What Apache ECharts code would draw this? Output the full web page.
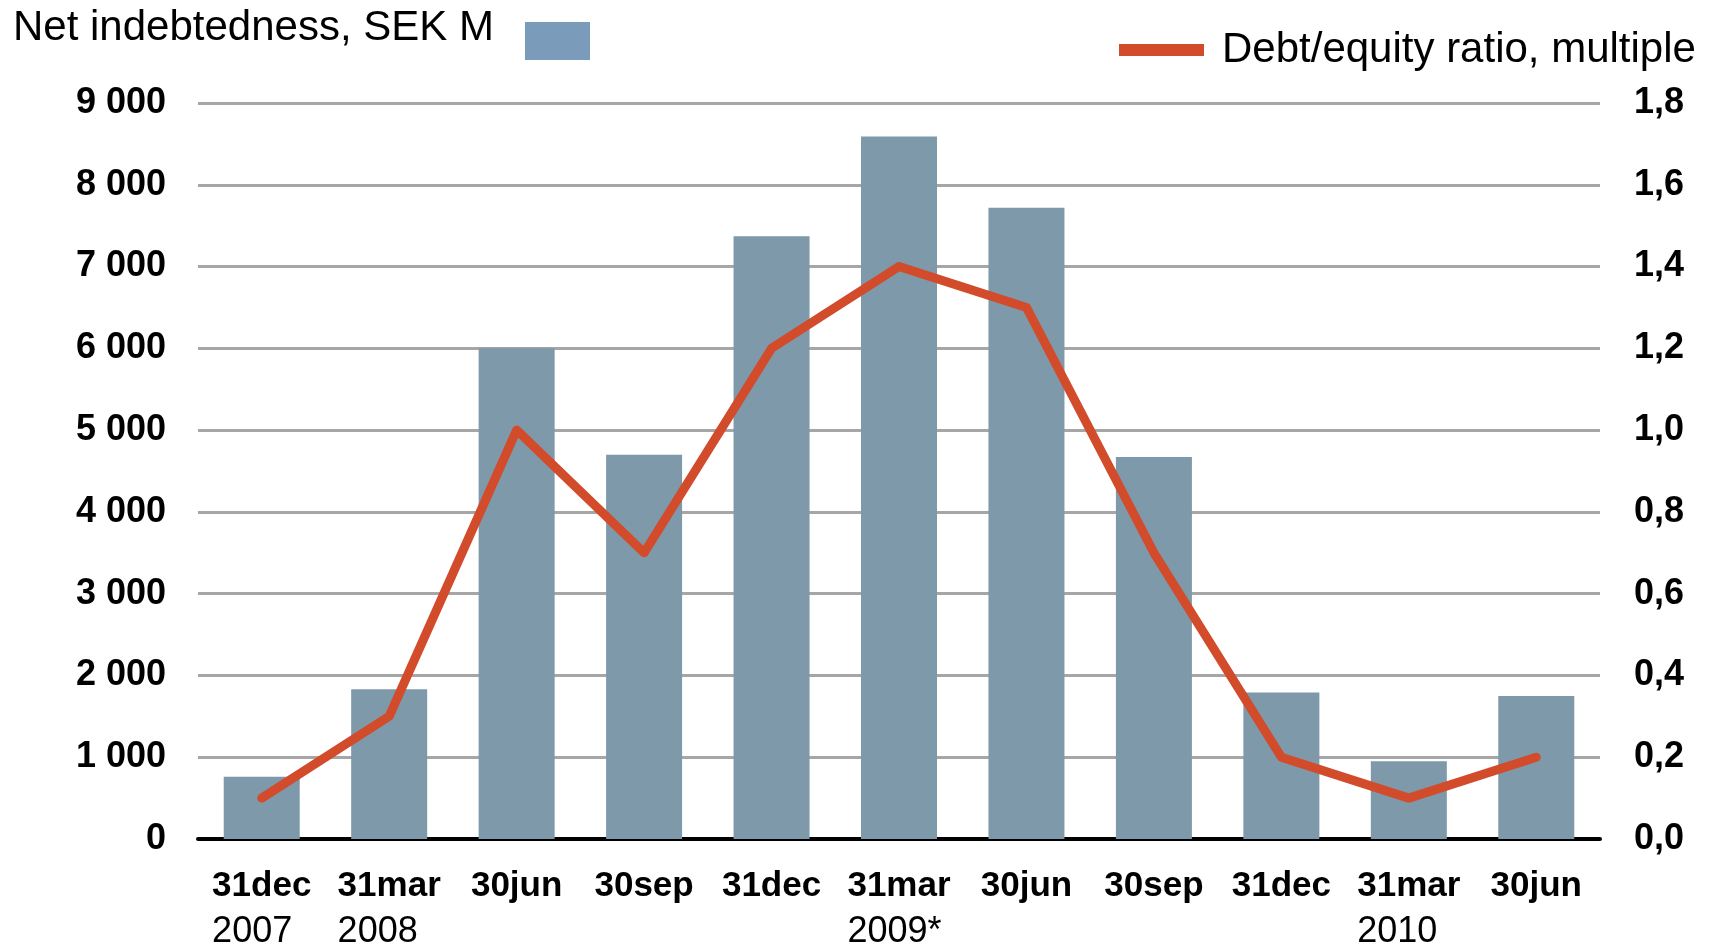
<!DOCTYPE html>
<html>
<head>
<meta charset="utf-8">
<script src="https://cdn.jsdelivr.net/npm/echarts@6/dist/echarts.min.js"></script>
<style>
  html, body { margin: 0; padding: 0; background: #ffffff; }
  #chart { width: 1716px; height: 950px; }
</style>
</head>
<body>
<div id="chart"></div>
<script>
// ---- Data ----
const categories = ['31dec', '31mar', '30jun', '30sep', '31dec', '31mar', '30jun', '30sep', '31dec', '31mar', '30jun'];
const years = ['2007', '2008', '', '', '', '2009*', '', '', '', '2010', ''];
const netIndebtedness = [760, 1830, 6000, 4700, 7370, 8590, 7720, 4670, 1790, 950, 1750];
const debtEquityRatio = [0.1, 0.3, 1.0, 0.7, 1.2, 1.4, 1.3, 0.7, 0.2, 0.1, 0.2];
const leftTicks = { min: 0, max: 9000, interval: 1000 };
const rightTicks = { min: 0, max: 1.8, interval: 0.2 };
const barName = 'Net indebtedness, SEK M';
const lineName = 'Debt/equity ratio, multiple';

const FONT = '"Liberation Sans", Arial, sans-serif';
const chart = echarts.init(document.getElementById('chart'), null, { renderer: 'canvas' });

const option = {
  backgroundColor: '#ffffff',
  animation: false,
  textStyle: { fontFamily: FONT },
  title: {
    text: barName,
    left: 13, top: 5, padding: 0,
    textStyle: { fontFamily: FONT, fontSize: 42, fontWeight: 'normal', color: '#000', lineHeight: 46 }
  },
  grid: { left: 198, right: 116, top: 103, bottom: 111, containLabel: false },
  legend: [
    {
      data: [{ name: barName, itemStyle: { color: '#7b9bbb' } }],
      left: 525, top: 22, padding: 0,
      align: 'left',
      icon: 'rect',
      itemWidth: 65, itemHeight: 38,
      selectedMode: false,
      formatter: function () { return ''; },
      textStyle: { fontSize: 1, lineHeight: 1 }
    },
    {
      data: [{ name: lineName, itemStyle: { color: '#d24b2b' } }],
      left: 1119, top: 24, padding: 0,
      align: 'left',
      icon: 'rect',
      itemWidth: 85, itemHeight: 12,
      selectedMode: false,
      textStyle: { fontFamily: FONT, fontSize: 42, color: '#000', lineHeight: 50, padding: [2, 0, 0, 13] }
    }
  ],
  xAxis: {
    type: 'category',
    data: categories.map((c, i) => String(i)),
    boundaryGap: true,
    axisTick: { show: false },
    axisLine: { show: true, onZero: false, lineStyle: { color: '#000', width: 4 } },
    splitLine: { show: false },
    axisLabel: {
      interval: 0,
      margin: 24,
      formatter: function (v, i) {
        return '{a|' + categories[i] + '}\n{b|' + (years[i] || ' ') + '}';
      },
      rich: {
        a: { fontFamily: FONT, fontSize: 35, fontWeight: 'bold', color: '#000', lineHeight: 46, align: 'left' },
        b: { fontFamily: FONT, fontSize: 36, color: '#000', lineHeight: 46, align: 'left' }
      }
    }
  },
  yAxis: [
    {
      type: 'value',
      min: leftTicks.min, max: leftTicks.max, interval: leftTicks.interval,
      axisLine: { show: false },
      axisTick: { show: false },
      splitLine: { show: true, lineStyle: { color: '#a6a6a6', width: 3 } },
      axisLabel: {
        margin: 32,
        fontFamily: FONT, fontSize: 36, fontWeight: 'bold', color: '#000',
        formatter: function (v) {
          return String(v).replace(/\B(?=(\d{3})+(?!\d))/g, ' ');
        }
      }
    },
    {
      type: 'value',
      min: rightTicks.min, max: rightTicks.max, interval: rightTicks.interval,
      position: 'right',
      axisLine: { show: false },
      axisTick: { show: false },
      splitLine: { show: false },
      axisLabel: {
        margin: 34,
        fontFamily: FONT, fontSize: 36, fontWeight: 'bold', color: '#000',
        formatter: function (v) {
          return v.toFixed(1).replace('.', ',');
        }
      }
    }
  ],
  series: [
    {
      name: barName,
      type: 'bar',
      yAxisIndex: 0,
      data: netIndebtedness,
      barWidth: 76,
      itemStyle: { color: '#7d99aa' },
      z: 2
    },
    {
      name: lineName,
      type: 'line',
      yAxisIndex: 1,
      data: debtEquityRatio,
      symbol: 'none',
      smooth: false,
      lineStyle: { color: '#d24b2b', width: 9, cap: 'round', join: 'round' },
      itemStyle: { color: '#d24b2b' },
      z: 3
    }
  ]
};

chart.setOption(option);
</script>
</body>
</html>
